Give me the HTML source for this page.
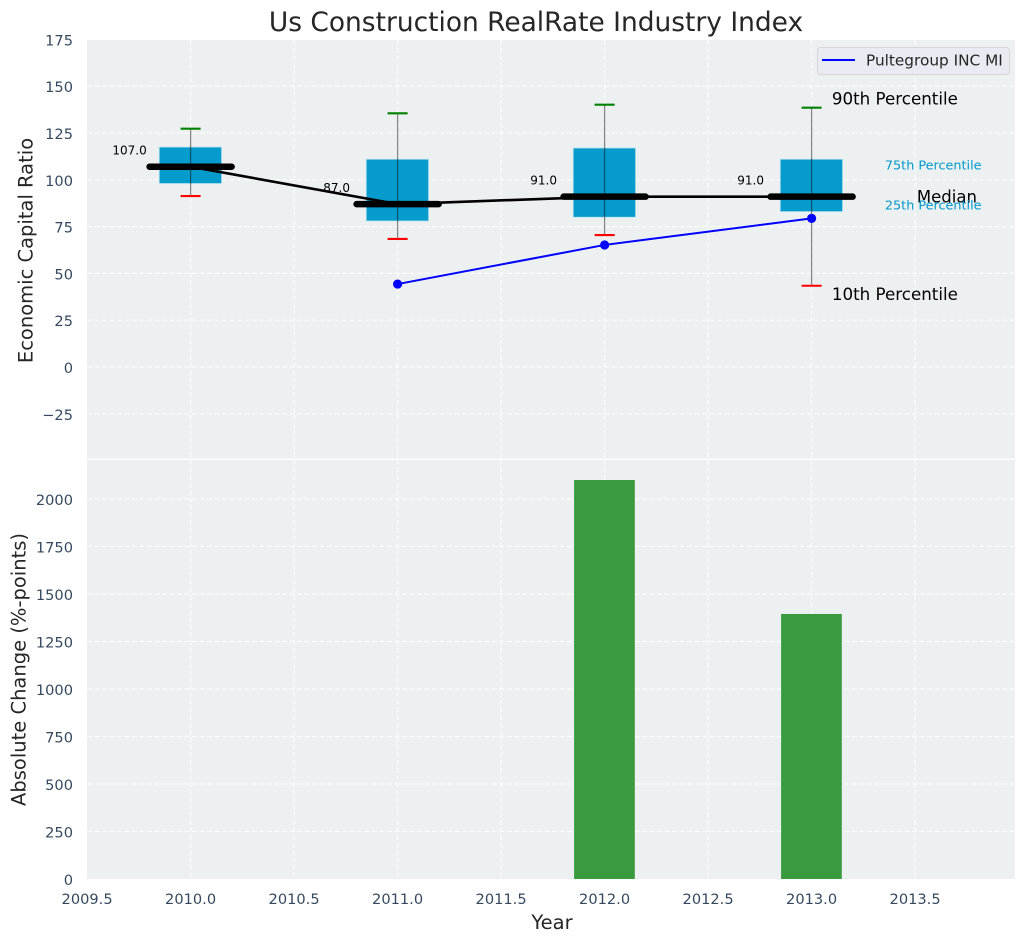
<!DOCTYPE html>
<html>
<head>
<meta charset="utf-8">
<title>Us Construction RealRate Industry Index</title>
<style>
html,body{margin:0;padding:0;background:#fff;width:1026px;height:942px;overflow:hidden}
svg{display:block;font-family:"DejaVu Sans","Liberation Sans",sans-serif}
</style>
</head>
<body>
<svg id="chart" xmlns="http://www.w3.org/2000/svg" width="1026" height="942" viewBox="0 0 1026 942"></svg>
<script>
const years = [2010, 2011, 2012, 2013];
const p10 = [91.3, 68.4, 70.5, 43.4];
const p25 = [98, 78, 80, 83];
const medians = [107, 87, 91, 91];
const p75 = [117.5, 111, 117, 111];
const p90 = [127.3, 135.5, 140.1, 138.5];
const companyYears = [2011, 2012, 2013];
const companyValues = [44.3, 65.2, 79.4];
const changeYears = [2012, 2013];
const changeValues = [2100, 1395];
const xTicks = [2009.5, 2010, 2010.5, 2011, 2011.5, 2012, 2012.5, 2013, 2013.5];
const xTickLabels = ['2009.5', '2010.0', '2010.5', '2011.0', '2011.5', '2012.0', '2012.5', '2013.0', '2013.5'];
const topTicks = [175, 150, 125, 100, 75, 50, 25, 0, -25];
const bottomTicks = [0, 250, 500, 750, 1000, 1250, 1500, 1750, 2000];

const svg = document.getElementById('chart');
const NS = 'http://www.w3.org/2000/svg';
const L = 87, R = 1015, T1 = 40, B1 = 458.5, T2 = 460, B2 = 879;
const sx = v => 190.6 + (v - 2010) * 207;
const sy = v => 367 - v * 1.872;
const sb = v => 879 - v * 0.19;

function mk(tag, attrs, text) {
  const el = document.createElementNS(NS, tag);
  for (const k in attrs) el.setAttribute(k, attrs[k]);
  if (text !== undefined) el.textContent = text;
  svg.appendChild(el);
  return el;
}
function name(el, n, i) {
  
  
  return el;
}
function gridLine(x1, y1, x2, y2) {
  return mk('line', {x1, y1, x2, y2, stroke: '#ffffff', 'stroke-width': 1.2, 'stroke-dasharray': '5,2.5', opacity: 0.85});
}

name(mk('rect', {x: 0, y: 0, width: 1026, height: 942, fill: '#ffffff'}), 'figure-background');
name(mk('rect', {x: L, y: T1, width: R - L, height: B1 - T1, fill: '#ecf0f1'}), 'top-plot-area');
name(mk('rect', {x: L, y: T2, width: R - L, height: B2 - T2, fill: '#ecf0f1'}), 'bottom-plot-area');

xTicks.forEach((t, i) => {
  if (t === 2009.5) return;
  name(gridLine(sx(t), T1, sx(t), B1), 'top-x-gridline');
  name(gridLine(sx(t), T2, sx(t), B2), 'bottom-x-gridline');
});
topTicks.forEach(t => {
  if (t === 175) return;
  name(gridLine(L, sy(t), R, sy(t)), 'top-y-gridline');
});
bottomTicks.forEach(t => {
  if (t === 0) return;
  name(gridLine(L, sb(t), R, sb(t)), 'bottom-y-gridline');
});

name(mk('text', {x: 536, y: 31, 'text-anchor': 'middle', 'font-size': 26.45, fill: '#262626'}, 'Us Construction RealRate Industry Index'), 'chart-title');

topTicks.forEach(t => {
  const label = t < 0 ? '\u2212' + Math.abs(t) : String(t);
  name(mk('text', {x: 73, y: sy(t) + 6, 'text-anchor': 'end', 'font-size': 14.6, fill: '#34495e'}, label), 'top-y-tick-label');
});
bottomTicks.forEach(t => {
  name(mk('text', {x: 73, y: sb(t) + 6, 'text-anchor': 'end', 'font-size': 14.6, fill: '#34495e'}, String(t)), 'bottom-y-tick-label');
});
xTicks.forEach((t, i) => {
  name(mk('text', {x: sx(t), y: 904, 'text-anchor': 'middle', 'font-size': 14.6, fill: '#34495e'}, xTickLabels[i]), 'x-tick-label');
});

name(mk('text', {x: 0, y: 0, transform: 'translate(32.5,250.5) rotate(-90)', 'text-anchor': 'middle', 'font-size': 19.5, fill: '#262626'}, 'Economic Capital Ratio'), 'top-y-axis-title');
name(mk('text', {x: 0, y: 0, transform: 'translate(25.5,669.5) rotate(-90)', 'text-anchor': 'middle', 'font-size': 19.5, fill: '#262626'}, 'Absolute Change (%-points)'), 'bottom-y-axis-title');
name(mk('text', {x: 0, y: 0, transform: 'translate(552,929)', 'text-anchor': 'middle', 'font-size': 19.5, fill: '#262626'}, 'Year'), 'x-axis-title');

years.forEach((y, i) => {
  const x = sx(y);
  const box = mk('rect', {x: x - 31.4, y: sy(p75[i]), width: 62.4, height: sy(p25[i]) - sy(p75[i]), fill: '#0099cc', 'fill-opacity': 0.98, stroke: '#bfe3ef', 'stroke-width': 0.8});
  name(box, 'iqr-box-' + y);
});
years.forEach((y, i) => {
  const x = sx(y);
  const wh = mk('line', {x1: x, y1: sy(p90[i]), x2: x, y2: sy(p10[i]), stroke: '#000000', 'stroke-opacity': 0.45, 'stroke-width': 1.3});
  name(wh, 'whisker-' + y);
  const c90 = mk('line', {x1: x - 10, y1: sy(p90[i]), x2: x + 10, y2: sy(p90[i]), stroke: '#008000', 'stroke-width': 2.1});
  name(c90, 'p90-cap-' + y);
  const c10 = mk('line', {x1: x - 10, y1: sy(p10[i]), x2: x + 10, y2: sy(p10[i]), stroke: '#ff0000', 'stroke-width': 2.1});
  name(c10, 'p10-cap-' + y);
});

const medianPts = years.map((y, i) => sx(y) + ',' + sy(medians[i])).join(' ');
name(mk('polyline', {points: medianPts, fill: 'none', stroke: '#000000', 'stroke-width': 2.6}), 'median-trend-line');
years.forEach((y, i) => {
  const m = mk('line', {x1: sx(y) - 41, y1: sy(medians[i]), x2: sx(y) + 41, y2: sy(medians[i]), stroke: '#000000', 'stroke-width': 6.5, 'stroke-linecap': 'round'});
  name(m, 'median-bar-' + y);
  const t = mk('text', {x: sx(y) - 61, y: sy(medians[i]) - 12, 'text-anchor': 'middle', 'font-size': 12, fill: '#000000'}, medians[i].toFixed(1));
  name(t, 'median-value-label-' + y);
});

const bluePts = companyYears.map((y, i) => sx(y) + ',' + sy(companyValues[i])).join(' ');
name(mk('polyline', {points: bluePts, fill: 'none', stroke: '#0000ff', 'stroke-width': 2}), 'pultegroup-line');
companyYears.forEach((y, i) => {
  const pt = mk('circle', {cx: sx(y), cy: sy(companyValues[i]), r: 4.6, fill: '#0000ff'});
  name(pt, 'pultegroup-point-' + y);
});

changeYears.forEach((y, i) => {
  const b = mk('rect', {x: sx(y) - 30.5, y: sb(changeValues[i]), width: 60.7, height: sb(0) - sb(changeValues[i]), fill: '#2a9230', 'fill-opacity': 0.92});
  name(b, 'change-bar-' + y);
});

const last = years.length - 1;
const ax = sx(years[last]);
name(mk('text', {x: ax + 20.3, y: sy(p90[last]) - 3, 'font-size': 16.7, fill: '#000000'}, '90th Percentile'), 'annotation-90th-percentile');
name(mk('text', {x: ax + 20.3, y: sy(p10[last]) + 14, 'font-size': 16.7, fill: '#000000'}, '10th Percentile'), 'annotation-10th-percentile');
name(mk('text', {x: ax + 105.3, y: sy(medians[last]) + 6, 'font-size': 16.5, fill: '#000000'}, 'Median'), 'annotation-median');
name(mk('text', {x: ax + 73.3, y: sy(p75[last]) + 10.5, 'font-size': 12.8, fill: '#0099cc'}, '75th Percentile'), 'annotation-75th-percentile');
name(mk('text', {x: ax + 73.3, y: sy(p25[last]) - 2, 'font-size': 12.8, fill: '#0099cc'}, '25th Percentile'), 'annotation-25th-percentile');

name(mk('rect', {x: 817.5, y: 47.5, width: 192, height: 27, rx: 3, fill: '#eaeaf2', stroke: '#d5d5da', 'stroke-width': 1}), 'legend-box');
name(mk('line', {x1: 822, y1: 60, x2: 855, y2: 60, stroke: '#0000ff', 'stroke-width': 2}), 'legend-line-pultegroup');
name(mk('text', {x: 866, y: 65.5, 'font-size': 15.3, fill: '#262626'}, 'Pultegroup INC MI'), 'legend-label-pultegroup');
</script>
</body>
</html>
